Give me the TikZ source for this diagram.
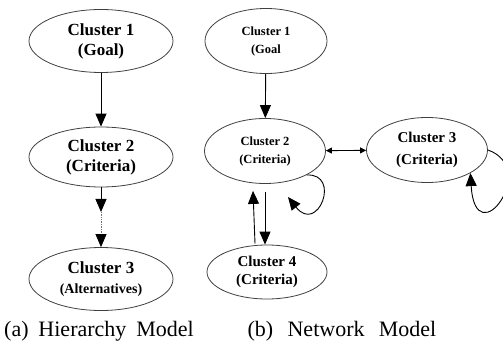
\documentclass[tikz,border=0pt]{standalone}
\usepackage{fontspec}
\setmainfont{Liberation Serif}
\usetikzlibrary{arrows.meta}
\usetikzlibrary{shapes.geometric}
\usetikzlibrary{positioning}

\tikzset{
  cluster/.style 2 args={draw=black!75, line width=0.8pt, ellipse, inner sep=0pt,
    align=center, font=\bfseries\fontsize{#1}{#2}\selectfont},
  link/.style={-{Triangle[length=13pt,width=11pt]}, line width=0.9pt},
  dotlink/.style={-{Triangle[length=13pt,width=11pt,black]}, densely dotted,
    draw=black!55, line width=0.7pt},
  smalllink/.style={{Triangle[length=6pt,width=6pt]}-{Triangle[length=6pt,width=6pt]},
    line width=0.9pt},
  caption/.style={anchor=base, font=\fontsize{22}{24}\selectfont},
}

\begin{document}
\begin{tikzpicture}[x=1pt, y=1pt]
    \useasboundingbox (0, 0) rectangle (503, 343);
    \clip (0, 0) rectangle (503, 343);

    % (a) hierarchy
    \node [cluster={17}{20}, minimum width=144pt, minimum height=63pt] (c1a) at (101, 302)
      {Cluster 1\\(Goal)};
    \node [cluster={17}{20}, minimum width=144pt, minimum height=60pt] (c2a) at (101, 186)
      {Cluster 2\\(Criteria)};
    \node [cluster={17}{20}, minimum width=144pt, minimum height=63pt] (c3a) at (101, 64)
      {Cluster 3\\{\fontsize{14}{18}\selectfont (Alternatives)}};
    \coordinate (mida) at (101, 131);

    \draw [link] (c1a) -- (c2a);
    \draw [link] (c2a) -- (mida);
    \draw [dotlink] (mida) -- (c3a);

    % (b) network
    \node [cluster={12.5}{18}, minimum width=122pt, minimum height=65pt] (c1b) at (266, 302)
      {Cluster 1\\(Goal};
    \node [cluster={12.5}{18}, minimum width=121pt, minimum height=65pt] (c2b) at (265, 192)
      {Cluster 2\\(Criteria)};
    \node [cluster={15}{22}, minimum width=121pt, minimum height=65pt] (c3b) at (427, 193)
      {Cluster 3\\(Criteria)};
    \node [cluster={15}{18}, minimum width=120pt, minimum height=54pt] (c4b) at (267, 71)
      {Cluster 4\\(Criteria)};
    \coordinate (loopb) at (288, 146);

    \draw [link] (c1b) -- (c2b);
    \draw [smalllink] (c2b) -- (c3b);
    \draw [link] ([xshift=-12pt, yshift=1pt]c4b.north) -- ([xshift=-12pt, yshift=-7pt]c2b.south);
    \draw [link] ([yshift=-8pt]c2b.south) -- ([xshift=-2pt]c4b.north);
    \draw [link] (c2b.-30) .. controls +(35, 2) and +(30, -38) .. (loopb);
    \draw [link] (c3b.east) .. controls +(52, -18) and +(5, -83) .. (c3b.-28);

    \node [caption] (capa) at (99, 7) {(a)\hspace{0.45em}Hierarchy\hspace{0.45em}Model};
    \node [caption] (capb) at (342, 7) {(b)\hspace{0.65em}Network\hspace{0.65em}Model};
\end{tikzpicture}
\end{document}
